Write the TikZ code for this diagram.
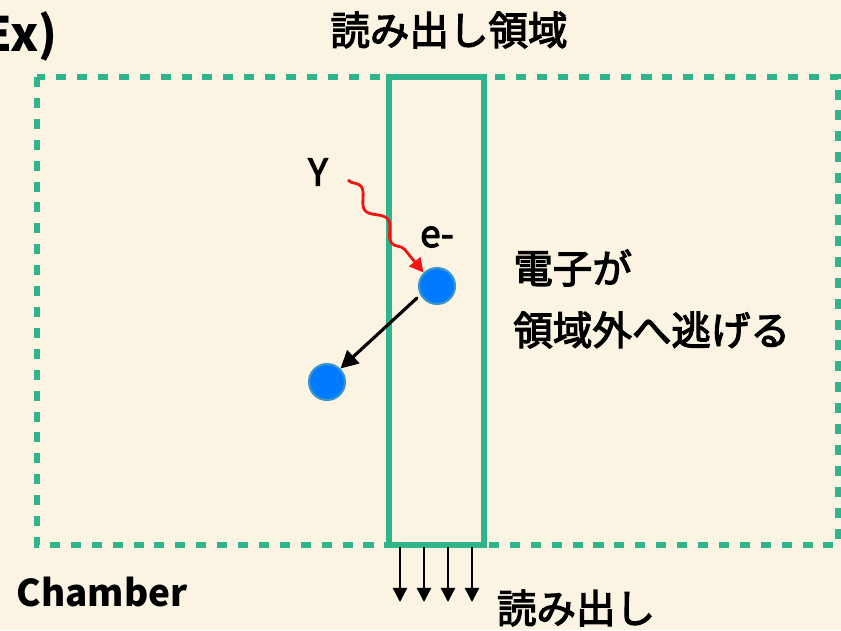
\documentclass[tikz,border=0pt]{standalone}
\usepackage{fontspec}
\setmainfont{Noto Sans CJK JP}
\newfontfamily\jpmed[FakeBold=3]{Noto Sans CJK JP}
\usepackage{xcolor}
\definecolor{chcream}{RGB}{251,244,227}
\definecolor{chgreen}{RGB}{48,180,140}
\definecolor{chblue}{RGB}{0,122,255}
\definecolor{chrim}{RGB}{60,150,200}
\definecolor{chred}{RGB}{240,20,20}
\usetikzlibrary{arrows.meta,positioning,decorations.pathmorphing}

\begin{document}
\begin{tikzpicture}[
  x=0.02cm, y=-0.02cm,
  electron/.style={
    circle, minimum size=0.72cm, inner sep=0pt,
    fill=chblue, draw=chrim, line width=1.2pt
  },
  lbl/.style={font=\fontsize{22.5}{26}\selectfont\jpmed, text=black, inner sep=0pt},
  readout/.style={-{Triangle[length=8pt,width=8pt]}, line width=1.3pt},
  frame/.style={draw=chgreen, line width=3pt}
]
\fill[chcream] (0,0) rectangle (841,630);
\useasboundingbox (0,0) rectangle (841,630);

\draw[frame, dash pattern=on 5.7pt off 6.2pt] (37,77) rectangle (838,545);
\draw[frame] (389,77) rectangle (484,545);

\node[font=\fontsize{27}{30}\selectfont\bfseries, inner sep=0pt, anchor=east] (ex) at (58,36) {Ex)};
\node[lbl] (region) at (449,30) {読み出し領域};
\node[lbl, font=\fontsize{21}{24}\selectfont\bfseries] (chamber) at (102,592) {Chamber};
\node[lbl] (readtxt) at (576,608) {読み出し};
\node[lbl, anchor=west] (esc1) at (513,268) {電子が};
\node[lbl, anchor=west] (esc2) at (513,330) {領域外へ逃げる};

\node[lbl, font=\fontsize{21}{24}\selectfont\jpmed] (gamma) at (318,172) {Y};
\node[lbl, font=\fontsize{21}{24}\selectfont\jpmed] (elabel) at (437,237) {e-};

\node[electron] (e1) at (437,286) {};
\node[electron] (e2) at (327,382) {};

\coordinate (gstart) at (348,180);
\draw[chred, line width=1.6pt, -{Triangle[length=8pt,width=8pt]},
  decorate, decoration={snake, amplitude=3.5pt, segment length=24pt, post length=9pt}]
  (gstart) -- (e1.north west);

\draw[line width=1.8pt, line cap=round, -{Triangle[length=10pt,width=10pt]}]
  (417,298) -- (e2.north east);

\foreach \xx [count=\i] in {400,424,448,472} {
  \coordinate (top\i) at (\xx,547);
  \coordinate (bot\i) at (\xx,602);
  \draw[readout] (top\i) -- (bot\i);
}
\end{tikzpicture}
\end{document}
